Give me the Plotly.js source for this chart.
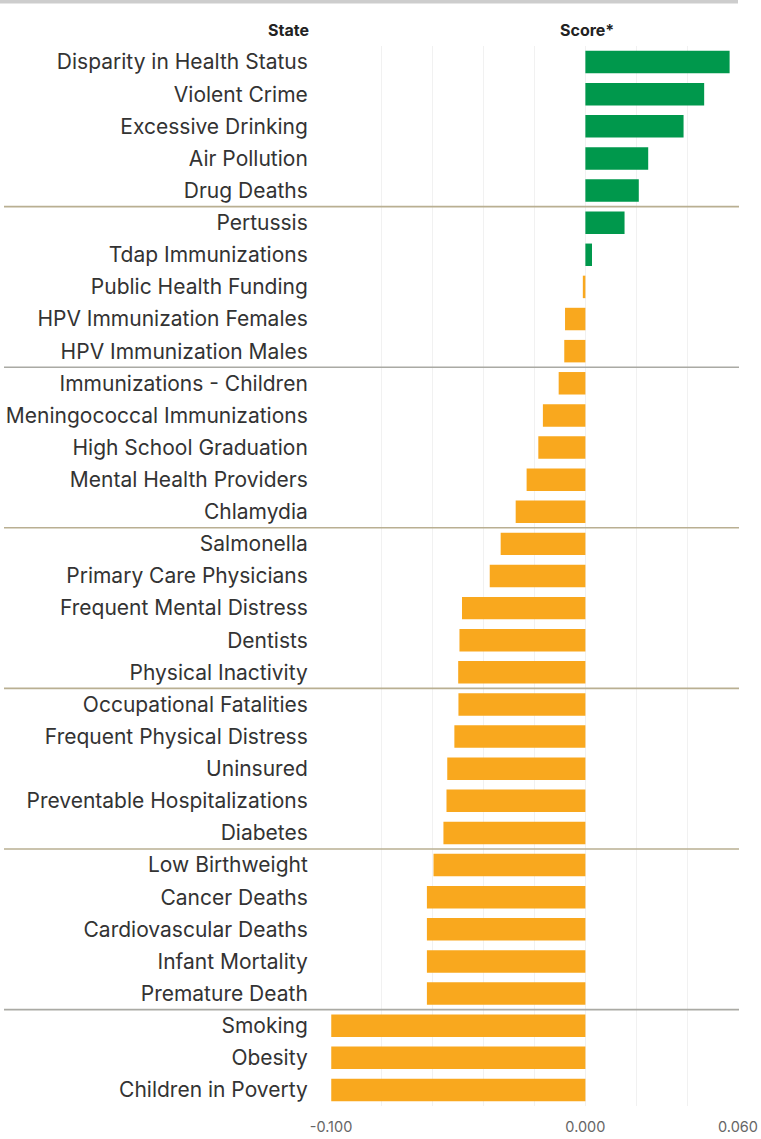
<!DOCTYPE html>
<html>
<head>
<meta charset="utf-8">
<script src="https://cdn.plot.ly/plotly-3.0.1.min.js"></script>
<style>
html,body{margin:0;padding:0;background:#fff;}
#chart{width:761px;height:1139px;}
</style>
</head>
<body>
<div id="chart"></div>
<script>
const categories = [
  "Disparity in Health Status","Violent Crime","Excessive Drinking","Air Pollution","Drug Deaths",
  "Pertussis","Tdap Immunizations","Public Health Funding","HPV Immunization Females","HPV Immunization Males",
  "Immunizations - Children","Meningococcal Immunizations","High School Graduation","Mental Health Providers","Chlamydia",
  "Salmonella","Primary Care Physicians","Frequent Mental Distress","Dentists","Physical Inactivity",
  "Occupational Fatalities","Frequent Physical Distress","Uninsured","Preventable Hospitalizations","Diabetes",
  "Low Birthweight","Cancer Deaths","Cardiovascular Deaths","Infant Mortality","Premature Death",
  "Smoking","Obesity","Children in Poverty"
];
const scores = [
  0.0567, 0.0467, 0.0386, 0.0247, 0.0210,
  0.0154, 0.0026, -0.0010, -0.0080, -0.0083,
  -0.0105, -0.0167, -0.0185, -0.0231, -0.0274,
  -0.0333, -0.0376, -0.0485, -0.0495, -0.0500,
  -0.0499, -0.0515, -0.0543, -0.0546, -0.0558,
  -0.0597, -0.0623, -0.0623, -0.0623, -0.0623,
  -0.0999, -0.0999, -0.0999
];
const tickValues = [-0.1, 0, 0.06];
const tickLabels = ["-0.100", "0.000", "0.060"];
const headerLabels = ["State", "Score*"];

const GREEN = "#00984c", ORANGE = "#f9a81e";
const colors = scores.map(v => v >= 0 ? GREEN : ORANGE);

// plot area in pixels
const L = 331, R = 738, T = 46, B = 1106;
const W = R - L, H = B - T;
const px2x = p => (p - L) / W;
const py2y = p => (B - p) / H;

const sepColors = ["#b9af92", "#aaaaa4", "#b9af92", "#b9af92", "#b9af92", "#aaaaa4"];
const shapes = [];
for (let i = 0; i < 6; i++) {
  const yv = (i + 1) * 5 - 0.5;
  shapes.push({type: "line", xref: "paper", yref: "y", x0: px2x(4), x1: px2x(739), y0: yv, y1: yv,
    line: {color: sepColors[i], width: 1.6}});
}
shapes.push({type: "rect", xref: "paper", yref: "paper", x0: px2x(0), x1: px2x(738), y0: py2y(3.5), y1: py2y(0),
  fillcolor: "#cdcdcd", line: {width: 0}});

const data = [{
  type: "bar", orientation: "h",
  x: scores, y: categories,
  marker: {color: colors, line: {width: 0}},
  hoverinfo: "x+y"
}];

const layout = {
  width: 761, height: 1139,
  margin: {l: L, r: 761 - R, t: T, b: 1139 - B, pad: 0},
  paper_bgcolor: "#fff", plot_bgcolor: "#fff",
  showlegend: false,
  bargap: 0.3,
  font: {family: "Inter, 'Noto Sans', sans-serif", color: "#333"},
  xaxis: {
    range: [-0.1, 0.06], fixedrange: true,
    tickmode: "array", tickvals: tickValues, ticktext: tickLabels,
    tickfont: {size: 14.5, color: "#666", family: "Inter, sans-serif"},
    showgrid: true, gridcolor: "#f1f1f1", gridwidth: 1,
    minor: {tickmode: "linear", tick0: 0, dtick: 0.02, showgrid: true, gridcolor: "#f1f1f1", gridwidth: 1, ticks: ""},
    zeroline: false, showline: false, ticks: "outside", ticklen: 8, tickcolor: "rgba(0,0,0,0)"
  },
  yaxis: {
    type: "category", autorange: false, range: [categories.length - 0.5, -0.5],
    tickfont: {size: 21, color: "#333", family: "Inter, sans-serif"},
    ticks: "outside", ticklen: 18, tickcolor: "rgba(0,0,0,0)",
    showgrid: false, zeroline: false, showline: false, fixedrange: true
  },
  shapes: shapes,
  annotations: [
    {xref: "paper", yref: "paper", x: px2x(311), y: py2y(30), xanchor: "right", yanchor: "middle",
      text: "<b>" + headerLabels[0] + "</b>", showarrow: false,
      font: {size: 16, color: "#222", family: "Inter, sans-serif", weight: 900}},
    {xref: "paper", yref: "paper", x: px2x(587), y: py2y(30), xanchor: "center", yanchor: "middle",
      text: "<b>" + headerLabels[1] + "</b>", showarrow: false,
      font: {size: 16, color: "#222", family: "Inter, sans-serif", weight: 900}}
  ]
};

Plotly.newPlot("chart", data, layout, {displayModeBar: false, staticPlot: true});
</script>
</body>
</html>
